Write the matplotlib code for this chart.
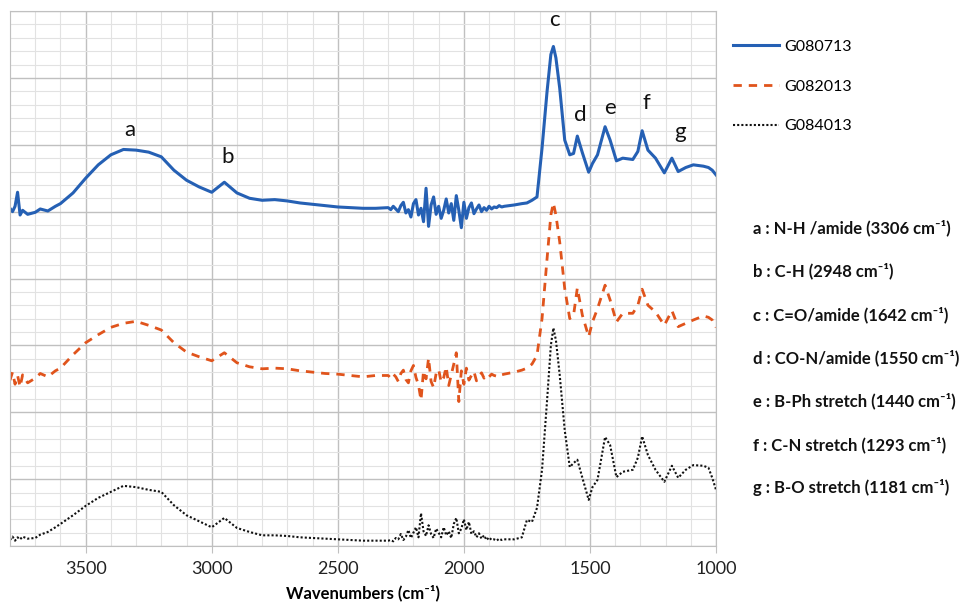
import matplotlib

matplotlib.use("Agg")
import matplotlib.pyplot as plt
import numpy as np
from matplotlib.ticker import MultipleLocator

plt.rcParams['font.family'] = ['Lato', 'DejaVu Sans']

# shared wavenumber grids (cm-1)
wn_left = [3800, 3790, 3780, 3770, 3760, 3750, 3730, 3700, 3680, 3650,
           3620, 3600, 3550, 3500, 3450, 3400, 3350, 3300, 3250, 3200,
           3150, 3100, 3050, 3000, 2950, 2900, 2850, 2800, 2750, 2700,
           2650, 2600, 2550, 2500, 2450, 2400, 2350]
wn_noise = list(range(2300, 1849, -10))
wn_right = [1840, 1800, 1770, 1750, 1730, 1710, 1690, 1670, 1655, 1645,
            1635, 1620, 1600, 1580, 1565, 1550, 1530, 1505, 1490, 1470,
            1440, 1420, 1395, 1370, 1330, 1310, 1293, 1270, 1240, 1205,
            1175, 1150, 1120, 1090, 1050, 1030, 1015, 1000]

# G080713 (blue, offset top)
g080713_left = [5.05, 5.00, 5.08, 5.29, 4.95, 5.02, 4.96, 4.99, 5.04, 5.01,
                5.08, 5.12, 5.28, 5.50, 5.70, 5.85, 5.93, 5.92, 5.89, 5.82,
                5.62, 5.47, 5.37, 5.29, 5.44, 5.28, 5.20, 5.17, 5.18, 5.16,
                5.13, 5.11, 5.09, 5.07, 5.06, 5.05, 5.05]
g080713_noise = [5.06, 5.03, 5.08, 5.04, 5.00, 5.09, 5.14, 4.98, 5.03, 4.92,
                 5.12, 5.18, 4.95, 5.05, 4.85, 5.35, 4.78, 5.10, 5.22, 4.96,
                 5.08, 4.90, 5.02, 5.19, 4.98, 5.12, 4.87, 5.24, 5.02, 4.76,
                 5.14, 4.90, 5.06, 5.13, 4.97, 5.04, 5.10, 5.00, 5.06, 5.02,
                 5.08, 5.04, 5.07, 5.06, 5.09, 5.07]
g080713_right = [5.08, 5.10, 5.12, 5.13, 5.17, 5.22, 5.95, 6.80, 7.35, 7.47,
                 7.30, 6.85, 6.07, 5.85, 5.87, 6.13, 5.88, 5.59, 5.72, 5.85,
                 6.27, 6.07, 5.76, 5.80, 5.78, 5.90, 6.21, 5.92, 5.80, 5.58,
                 5.80, 5.60, 5.66, 5.70, 5.68, 5.66, 5.62, 5.55]

# G082013 (orange, middle)
g082013_left = [2.48, 2.60, 2.42, 2.55, 2.38, 2.56, 2.44, 2.51, 2.58, 2.53,
                2.62, 2.66, 2.86, 3.04, 3.16, 3.27, 3.33, 3.36, 3.30, 3.23,
                3.04, 2.90, 2.83, 2.77, 2.89, 2.74, 2.68, 2.65, 2.66, 2.65,
                2.62, 2.60, 2.58, 2.57, 2.55, 2.53, 2.55]
g082013_noise = [2.55, 2.51, 2.57, 2.53, 2.46, 2.58, 2.63, 2.49, 2.44, 2.62,
                 2.70, 2.52, 2.41, 2.18, 2.62, 2.50, 2.81, 2.46, 2.37, 2.58,
                 2.64, 2.45, 2.52, 2.68, 2.40, 2.56, 2.72, 2.89, 2.16, 2.62,
                 2.42, 2.66, 2.48, 2.55, 2.61, 2.47, 2.54, 2.59, 2.51, 2.56,
                 2.53, 2.57, 2.55, 2.54, 2.57, 2.56]
g082013_right = [2.57, 2.60, 2.63, 2.66, 2.72, 2.85, 3.40, 4.30, 4.95, 5.13,
                 4.95, 4.55, 3.85, 3.40, 3.45, 3.86, 3.45, 3.13, 3.35, 3.55,
                 3.90, 3.68, 3.35, 3.48, 3.48, 3.60, 3.84, 3.60, 3.50, 3.30,
                 3.52, 3.28, 3.33, 3.38, 3.44, 3.42, 3.38, 3.27]

# G084013 (black dotted, bottom)
g084013_left = [0.09, 0.14, 0.08, 0.13, 0.10, 0.14, 0.11, 0.12, 0.17, 0.21,
                0.28, 0.33, 0.46, 0.60, 0.72, 0.81, 0.90, 0.88, 0.84, 0.81,
                0.61, 0.46, 0.37, 0.28, 0.42, 0.27, 0.21, 0.16, 0.16, 0.15,
                0.13, 0.12, 0.11, 0.10, 0.09, 0.08, 0.08]
g084013_noise = [0.08, 0.09, 0.07, 0.12, 0.10, 0.18, 0.09, 0.14, 0.24, 0.12,
                 0.20, 0.28, 0.13, 0.49, 0.22, 0.15, 0.31, 0.18, 0.12, 0.26,
                 0.20, 0.13, 0.28, 0.16, 0.22, 0.12, 0.33, 0.42, 0.19, 0.26,
                 0.40, 0.24, 0.36, 0.18, 0.22, 0.13, 0.19, 0.11, 0.16, 0.09,
                 0.13, 0.09, 0.10, 0.08, 0.11, 0.09]
g084013_right = [0.10, 0.10, 0.13, 0.39, 0.36, 0.57, 1.14, 2.18, 3.00, 3.26,
                 3.08, 2.56, 1.73, 1.18, 1.24, 1.29, 1.02, 0.69, 0.88, 0.99,
                 1.63, 1.51, 1.03, 1.11, 1.14, 1.32, 1.64, 1.36, 1.14, 0.96,
                 1.20, 1.02, 1.14, 1.21, 1.20, 1.17, 1.02, 0.84]

peak_letters = ['a', 'b', 'c', 'd', 'e', 'f', 'g']
peak_pos = [(3325, 6.22), (2936, 5.82), (1639, 7.87), (1540, 6.44),
            (1421, 6.55), (1278, 6.62), (1143, 6.19)]
assignments = ['a : N-H /amide (3306 cm⁻¹)', 'b : C-H (2948 cm⁻¹)',
               'c : C=O/amide (1642 cm⁻¹)', 'd : CO-N/amide (1550 cm⁻¹)',
               'e : B-Ph stretch (1440 cm⁻¹)', 'f : C-N stretch (1293 cm⁻¹)',
               'g : B-O stretch (1181 cm⁻¹)']

wn = np.concatenate([wn_left, wn_noise, wn_right])
blue = np.concatenate([g080713_left, g080713_noise, g080713_right])
orange = np.concatenate([g082013_left, g082013_noise, g082013_right])
black = np.concatenate([g084013_left, g084013_noise, g084013_right])

fig = plt.figure(figsize=(9.62, 6.03), dpi=100)
ax = fig.add_axes([0.0104, 0.0945, 0.7339, 0.8872])

ax.plot(wn, blue, color='#2560b4', lw=2.2, label='G080713')
ax.plot(wn, orange, color='#e0541c', lw=2.0, ls=(0, (3, 2.5)), label='G082013')
ax.plot(wn, black, color='#111111', lw=1.5, ls=(0, (1, 1)), label='G084013')

ax.set_xlim(3800, 1000)
ax.set_ylim(0, 8)
ax.xaxis.set_major_locator(MultipleLocator(500))
ax.xaxis.set_minor_locator(MultipleLocator(100))
ax.yaxis.set_major_locator(MultipleLocator(1))
ax.yaxis.set_minor_locator(MultipleLocator(0.2))
ax.set_xticks([3500, 3000, 2500, 2000, 1500, 1000])
ax.grid(which='major', color='#c0c0c0', lw=1.0)
ax.grid(which='minor', color='#e2e2e2', lw=0.8)
ax.set_axisbelow(True)
ax.tick_params(axis='y', which='both', left=False, labelleft=False)
ax.tick_params(axis='x', which='major', length=5, color='#c0c0c0', labelsize=13,
               pad=6, labelcolor='#222222')
ax.tick_params(axis='x', which='minor', length=0)
for s in ax.spines.values():
    s.set_color('#c0c0c0')

ax.set_xlabel('Wavenumbers (cm⁻¹)', fontsize=12, fontweight='bold', labelpad=5)

for letter, (x, y) in zip(peak_letters, peak_pos):
    ax.text(x, y, letter, fontsize=16, ha='center', va='center', color='#111111')

fig.legend(loc='upper left', bbox_to_anchor=(0.762, 0.934), frameon=False,
           fontsize=11.5, handlelength=2.9, handletextpad=0.3, labelspacing=1.6,
           borderpad=0, borderaxespad=0)

for i, txt in enumerate(assignments):
    fig.text(0.783, 1 - (228 + i * 43.3) / 603, txt, fontsize=12,
             fontweight='bold', va='center', ha='left', color='#111111')

fig.savefig('out.png', dpi=100)
